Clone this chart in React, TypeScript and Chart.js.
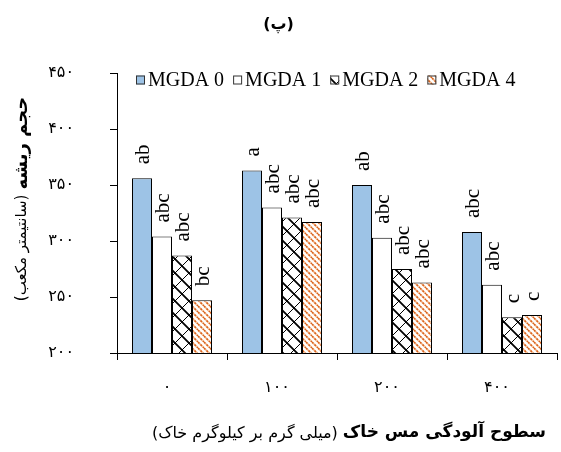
import React, { useEffect, useRef } from 'react';
import { Chart, registerables } from 'chart.js';

Chart.register(...registerables);

const categories = ['۰', '۱۰۰', '۲۰۰', '۴۰۰'];
const seriesNames = ['MGDA 0', 'MGDA 1', 'MGDA 2', 'MGDA 4'];
const mgda0 = [356, 363, 350, 308];
const mgda1 = [304, 330, 303, 261];
const mgda2 = [287, 321, 275, 232];
const mgda4 = [247, 317, 263, 234];
const letters0 = ['ab', 'a', 'ab', 'abc'];
const letters1 = ['abc', 'abc', 'abc', 'abc'];
const letters2 = ['abc', 'abc', 'abc', 'c'];
const letters4 = ['bc', 'abc', 'abc', 'c'];
const yTickValues = [200, 250, 300, 350, 400, 450];
const yTickLabels = ['۲۰۰', '۲۵۰', '۳۰۰', '۳۵۰', '۴۰۰', '۴۵۰'];
const chartTitle = '(پ)';
const yTitleBold = 'حجم ریشه';
const yTitleNormal = '(سانتیمتر مکعب)';
const xTitleBold = 'سطوح آلودگی مس خاک';
const xTitleNormal = '(میلی گرم بر کیلوگرم خاک)';

const FA = '"DejaVu Sans", sans-serif';
const LAT = '"Liberation Serif", "Times New Roman", serif';

function crossPattern(ctx: CanvasRenderingContext2D): CanvasPattern {
  const s = 14;
  const c = document.createElement('canvas');
  c.width = s;
  c.height = s;
  const g = c.getContext('2d')!;
  g.fillStyle = '#ffffff';
  g.fillRect(0, 0, s, s);
  g.strokeStyle = '#000000';
  g.lineWidth = 1.8;
  g.beginPath();
  for (const k of [-s, 0, s]) {
    g.moveTo(k, 0);
    g.lineTo(k + s, s);
  }
  g.stroke();
  g.lineWidth = 1;
  g.beginPath();
  for (const k of [-s, 0, s]) {
    g.moveTo(k, s);
    g.lineTo(k + s, 0);
  }
  g.stroke();
  return ctx.createPattern(c, 'repeat')!;
}

function stripePattern(ctx: CanvasRenderingContext2D): CanvasPattern {
  const s = 6;
  const c = document.createElement('canvas');
  c.width = s;
  c.height = s;
  const g = c.getContext('2d')!;
  g.fillStyle = '#ffffff';
  g.fillRect(0, 0, s, s);
  g.strokeStyle = '#F6C7A4';
  g.lineWidth = 2;
  g.beginPath();
  for (const k of [-s, 0, s]) {
    g.moveTo(k, 0);
    g.lineTo(k + s, s);
  }
  g.stroke();
  g.strokeStyle = '#D9621C';
  g.lineWidth = 1.5;
  g.setLineDash([2, 1.5]);
  g.beginPath();
  for (const k of [-s, 0, s]) {
    g.moveTo(k, 0);
    g.lineTo(k + s, s);
  }
  g.stroke();
  return ctx.createPattern(c, 'repeat')!;
}

const lettersPlugin = {
  id: 'letters',
  afterDatasetsDraw(chart: any) {
    const ctx = chart.ctx as CanvasRenderingContext2D;
    const all = [letters0, letters1, letters2, letters4];
    ctx.save();
    ctx.fillStyle = '#000';
    ctx.font = `21px ${LAT}`;
    ctx.textAlign = 'left';
    ctx.textBaseline = 'middle';
    chart.data.datasets.forEach((_d: any, i: number) => {
      const meta = chart.getDatasetMeta(i);
      meta.data.forEach((bar: any, j: number) => {
        ctx.save();
        ctx.translate(bar.x + 1, bar.y - 14);
        ctx.rotate(-Math.PI / 2);
        ctx.fillText(all[i][j], 0, 0);
        ctx.restore();
      });
    });
    ctx.restore();
  },
};

const decorPlugin = {
  id: 'decor',
  afterDraw(chart: any) {
    const ctx = chart.ctx as CanvasRenderingContext2D;
    ctx.save();
    ctx.fillStyle = '#000';
    ctx.textBaseline = 'middle';
    ctx.textAlign = 'left';

    // legend
    ctx.direction = 'ltr';
    ctx.font = `20px ${LAT}`;
    let x = 136;
    const cy = 80;
    chart.data.datasets.forEach((ds: any) => {
      ctx.fillStyle = ds.backgroundColor;
      ctx.fillRect(x, cy - 4.5, 9, 9);
      ctx.strokeStyle = '#333';
      ctx.lineWidth = 1;
      ctx.strokeRect(x + 0.5, cy - 4, 8, 8);
      ctx.fillStyle = '#000';
      ctx.fillText(ds.label, x + 12, cy + 1);
      x += 12 + ctx.measureText(ds.label).width + 9;
    });

    // y title
    ctx.direction = 'rtl';
    const fb = `bold 18px ${FA}`;
    const fn = `15px ${FA}`;
    ctx.font = fb;
    const wb = ctx.measureText(yTitleBold).width;
    ctx.font = fn;
    const wn = ctx.measureText(yTitleNormal).width;
    const gap = 5;
    const W = wb + gap + wn;
    ctx.save();
    ctx.translate(22, 199);
    ctx.rotate(-Math.PI / 2);
    ctx.textAlign = 'left';
    ctx.font = fn;
    ctx.fillText(yTitleNormal, -W / 2, 0);
    ctx.font = fb;
    ctx.fillText(yTitleBold, -W / 2 + wn + gap, 0);
    ctx.restore();

    // x title
    const xb = `bold 17px ${FA}`;
    const xn = `16px ${FA}`;
    ctx.font = xb;
    const xwb = ctx.measureText(xTitleBold).width;
    ctx.font = xn;
    const xwn = ctx.measureText(xTitleNormal).width;
    const XW = xwb + gap + xwn;
    const cx = 349;
    ctx.textAlign = 'left';
    ctx.font = xn;
    ctx.fillText(xTitleNormal, cx - XW / 2, 434);
    ctx.font = xb;
    ctx.fillText(xTitleBold, cx - XW / 2 + xwn + gap, 433);
    ctx.restore();
  },
};

export default function App() {
  const ref = useRef<HTMLCanvasElement | null>(null);
  useEffect(() => {
    const canvas = ref.current!;
    const ctx = canvas.getContext('2d')!;
    const fills = ['#9DC3E6', '#FFFFFF', crossPattern(ctx), stripePattern(ctx)];
    const values = [mgda0, mgda1, mgda2, mgda4];
    const chart = new Chart(canvas, {
      type: 'bar',
      data: {
        labels: categories,
        datasets: seriesNames.map((name, i) => ({
          label: name,
          data: values[i],
          backgroundColor: fills[i] as any,
          borderColor: '#000000',
          borderWidth: 1,
          categoryPercentage: 80 / 110,
          barPercentage: 1,
        })),
      },
      options: {
        animation: false,
        responsive: false,
        devicePixelRatio: 1,
        layout: { padding: { left: 0, right: 4, top: 0, bottom: 0 } },
        plugins: {
          legend: { display: false },
          tooltip: { enabled: false },
          title: {
            display: true,
            text: chartTitle,
            color: '#000',
            font: { family: FA, size: 16, weight: 'bold' },
            padding: { top: 15, bottom: 73 - 15 - 19.2 },
          },
        },
        scales: {
          x: {
            grid: {
              display: true,
              drawOnChartArea: false,
              drawTicks: true,
              tickLength: 7,
              color: '#000',
              offset: true,
            },
            border: { display: true, color: '#000', width: 1 },
            ticks: {
              color: '#000',
              font: { family: FA, size: 16 },
              padding: 18,
              labelOffset: -5,
            },
            afterFit: (s: any) => {
              s.height = 99;
            },
          },
          y: {
            min: 200,
            max: 450,
            grid: { drawOnChartArea: false, tickLength: 7, color: '#000' },
            border: { display: true, color: '#000', width: 1 },
            ticks: {
              stepSize: 50,
              color: '#000',
              font: { family: FA, size: 16 },
              padding: 36,
              callback: (v: any) => yTickLabels[yTickValues.indexOf(Number(v))],
            },
            afterFit: (s: any) => {
              s.width = 117;
            },
          },
        },
      },
      plugins: [lettersPlugin, decorPlugin],
    });
    return () => chart.destroy();
  }, []);
  return (
    <div style={{ position: 'fixed', left: 0, top: 0, width: 561, height: 452, background: '#fff' }}>
      <canvas ref={ref} width={561} height={452} style={{ width: 561, height: 452 }} />
    </div>
  );
}
